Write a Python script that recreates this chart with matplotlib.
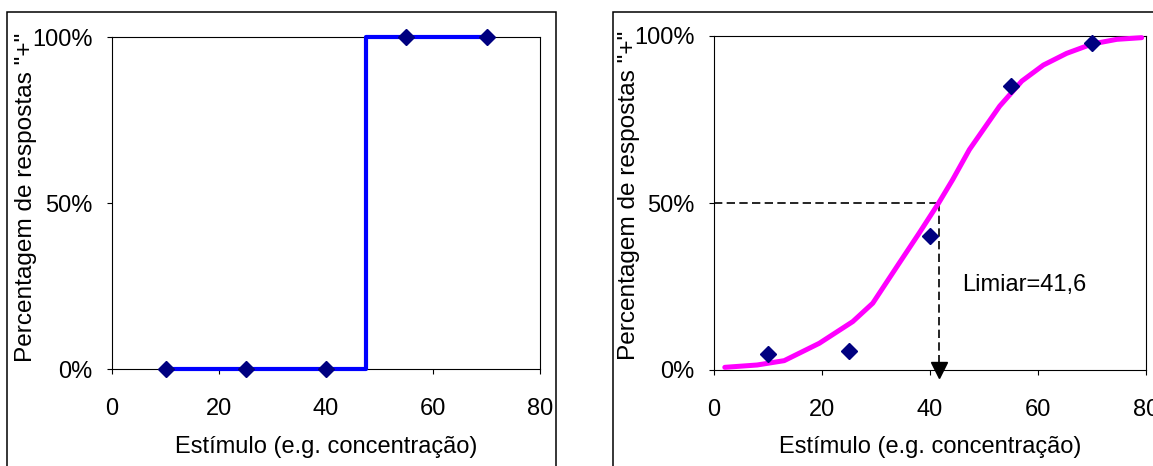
import matplotlib
matplotlib.use("Agg")
import matplotlib.pyplot as plt
from matplotlib.patches import Rectangle
from matplotlib.ticker import PercentFormatter

plt.rcParams['font.family'] = ['Liberation Sans', 'DejaVu Sans']
plt.rcParams['font.size'] = 17

# observed responses (percent of "+" answers) at each stimulus level
estimulo = [10, 25, 40, 55, 70]
resp_ideal = [0, 0, 0, 100, 100]
resp_real = [4.8, 5.7, 40, 85, 98]

# fitted psychometric curve, read point by point
curva_x = [2, 8, 13, 19.5, 25.7, 29.4, 34.3, 38, 41.6, 44.2, 47.3, 52.9, 57, 61, 65.3, 70, 74.6, 79.2]
curva_y = [0.8, 1.5, 2.8, 8, 14.5, 20, 32, 41, 50, 57, 66, 79, 86.5, 91.3, 94.8, 97.6, 99, 99.5]

limiar = 41.6
x_ticks = [0, 20, 40, 60, 80]
y_ticks = [0, 50, 100]

ylabel = 'Percentagem de respostas "+"'
xlabel = 'Estímulo (e.g. concentração)'

W, H = 1153, 466
fig = plt.figure(figsize=(W / 100, H / 100), dpi=100)

# panel frames, running off the bottom / right edge
fig.add_artist(Rectangle((7 / W, -0.2), (556 - 7) / W, 1.2 - 12 / H,
                         transform=fig.transFigure, fill=False, lw=1.1, ec='black'))
fig.add_artist(Rectangle((613 / W, -0.2), 0.6, 1.2 - 12 / H,
                         transform=fig.transFigure, fill=False, lw=1.1, ec='black'))

ax1 = fig.add_axes([112 / W, 1 - 369 / H, (540 - 112) / W, (369 - 37) / H])
ax2 = fig.add_axes([714 / W, 1 - 370 / H, (1146 - 714) / W, (370 - 36) / H])

for ax in (ax1, ax2):
    ax.set_xlim(0, 80)
    ax.set_ylim(0, 100)
    ax.set_xticks(x_ticks)
    ax.set_yticks(y_ticks)
    ax.yaxis.set_major_formatter(PercentFormatter(xmax=100, decimals=0))
    for s in ax.spines.values():
        s.set_linewidth(0.8)
        s.set_color('black')
    ax.tick_params(direction='out', length=3.6, width=0.8)
    ax.tick_params(axis='x', pad=17)
    ax.tick_params(axis='y', pad=10.5)

# left: ideal observer, step response
ax1.step(estimulo, resp_ideal, where='mid', color='#0000FF', lw=3, clip_on=False, zorder=3)
ax1.plot(estimulo, resp_ideal, ls='none', marker='D', ms=8.5, color='#000080',
         clip_on=False, zorder=4)

# right: real observer with fitted curve
ax2.plot(curva_x, curva_y, color='#FF00FF', lw=3.6, clip_on=False, zorder=3,
         solid_joinstyle='round', solid_capstyle='round')
ax2.plot(estimulo, resp_real, ls='none', marker='D', ms=8.5, color='#000080',
         clip_on=False, zorder=4)
ax2.plot([0, limiar], [50, 50], color='black', lw=1.2, ls=(0, (5, 2.6)), zorder=2)
ax2.plot([limiar, limiar], [50, 0], color='black', lw=1.2, ls=(0, (5, 2.6)), zorder=2)
ax2.plot([limiar], [0], marker='v', ms=11, color='black', clip_on=False, zorder=5)
ax2.text(46, 25.4, 'Limiar=' + f'{limiar:.1f}'.replace('.', ','), va='center', ha='left')

ax1.set_xlabel(xlabel)
ax2.set_xlabel(xlabel)
ax1.xaxis.set_label_coords(0.5, -0.202)
ax2.xaxis.set_label_coords(0.5, -0.198)
ax1.xaxis.label.set_va('top')
ax2.xaxis.label.set_va('top')

fig.text(26.5 / W, 1 - 197 / H, ylabel, rotation=90, ha='center', va='center', fontsize=17.6)
fig.text(629.5 / W, 1 - 195 / H, ylabel, rotation=90, ha='center', va='center', fontsize=17.6)

fig.savefig('out.png', dpi=100)
